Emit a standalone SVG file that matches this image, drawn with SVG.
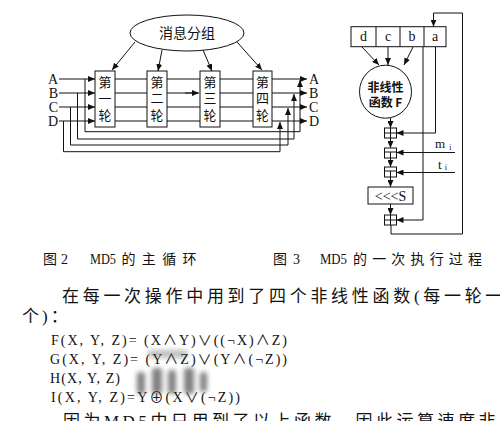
<svg xmlns="http://www.w3.org/2000/svg" width="500" height="421" viewBox="0 0 500 421">
<style>
.ln{fill:none;stroke:#111;stroke-width:1}
.bx{fill:#fff;stroke:#111;stroke-width:1}
.cj{font-family:"Noto Sans CJK SC","Liberation Sans",sans-serif;fill:#111}
.sr{font-family:"Liberation Serif","Noto Sans CJK SC",serif;fill:#111}
.body{font-family:"Liberation Serif","Noto Sans CJK SC",serif;fill:#111;font-size:17px}
</style>
<defs>
<marker id="ah" markerUnits="userSpaceOnUse" markerWidth="7" markerHeight="6" refX="7" refY="3" orient="auto">
<path d="M0,0 L7,3 L0,6 z" fill="#111"/>
</marker>
<filter id="blur" x="-20%" y="-20%" width="140%" height="140%"><feGaussianBlur stdDeviation="2.5"/></filter>
</defs>
<rect width="500" height="421" fill="#fff"/>

<!-- Figure 2 connectors -->
<g id="fig2-connectors">
<path class="ln" d="M135,42 L112,70" marker-end="url(#ah)"/>
<path class="ln" d="M162,50 L158,71" marker-end="url(#ah)"/>
<path class="ln" d="M203,50 L212,71" marker-end="url(#ah)"/>
<path class="ln" d="M237,42 L262,70" marker-end="url(#ah)"/>
<path class="ln" d="M59,79 L95,79" marker-end="url(#ah)"/>
<path class="ln" d="M59,93 L95,93" marker-end="url(#ah)"/>
<path class="ln" d="M59,107 L95,107" marker-end="url(#ah)"/>
<path class="ln" d="M59,121 L95,121" marker-end="url(#ah)"/>
<path class="ln" d="M115,79 H253 M115,93 H147 M167,93 H198 M115,107 H253 M115,121 H253 M220,93 H253"/>
<path class="ln" d="M185,93 L199,93" marker-end="url(#ah)"/>
<path class="ln" d="M272,79 L307,79" marker-end="url(#ah)"/>
<path class="ln" d="M272,93 L307,93" marker-end="url(#ah)"/>
<path class="ln" d="M272,107 L307,107" marker-end="url(#ah)"/>
<path class="ln" d="M272,121 L307,121" marker-end="url(#ah)"/>
<path class="ln" d="M85,79 V131.7 H300 V80" marker-end="url(#ah)"/>
<path class="ln" d="M77.5,93 V139 H294 V94" marker-end="url(#ah)"/>
<path class="ln" d="M70.5,107 V145 H288 V108" marker-end="url(#ah)"/>
<path class="ln" d="M63.5,121 V151.7 H280 V122" marker-end="url(#ah)"/>
</g>

<g id="msg">
<ellipse class="bx" cx="187" cy="33" rx="57" ry="18"/>
<text class="cj" x="187" y="38" font-size="14" text-anchor="middle">消息分组</text>
</g>
<g id="round1">
<rect class="bx" x="95" y="71" width="20" height="56"/>
<text class="cj" font-size="13" text-anchor="middle"><tspan x="105" y="87">第</tspan><tspan x="105" y="103">一</tspan><tspan x="105" y="120">轮</tspan></text>
</g>
<g id="round2">
<rect class="bx" x="147" y="71" width="20" height="56"/>
<text class="cj" font-size="13" text-anchor="middle"><tspan x="157" y="87">第</tspan><tspan x="157" y="103">二</tspan><tspan x="157" y="120">轮</tspan></text>
</g>
<g id="round3">
<rect class="bx" x="200" y="71" width="20" height="56"/>
<text class="cj" font-size="13" text-anchor="middle"><tspan x="210" y="87">第</tspan><tspan x="210" y="103">三</tspan><tspan x="210" y="120">轮</tspan></text>
</g>
<g id="round4">
<rect class="bx" x="253" y="71" width="19" height="56"/>
<text class="cj" font-size="13" text-anchor="middle"><tspan x="262.5" y="87">第</tspan><tspan x="262.5" y="103">四</tspan><tspan x="262.5" y="120">轮</tspan></text>
</g>
<g id="labels2" class="sr" font-size="14">
<text x="58" y="84" text-anchor="end">A</text>
<text x="58" y="98" text-anchor="end">B</text>
<text x="58" y="112" text-anchor="end">C</text>
<text x="58" y="126" text-anchor="end">D</text>
<text x="309" y="84">A</text>
<text x="309" y="98">B</text>
<text x="309" y="112">C</text>
<text x="309" y="126">D</text>
</g>

<!-- Figure 3 connectors -->
<g id="fig3-connectors">
<path class="ln" d="M391,225 V234 H462.5 V13 H433.5 V26.7" marker-end="url(#ah)"/>
<path class="ln" d="M362,47 L379,65" marker-end="url(#ah)"/>
<path class="ln" d="M388,47 L388,65" marker-end="url(#ah)"/>
<path class="ln" d="M413,47 L404,65" marker-end="url(#ah)"/>
<path class="ln" d="M390.5,118 V128" marker-end="url(#ah)"/>
<path class="ln" d="M390.5,138 V148" marker-end="url(#ah)"/>
<path class="ln" d="M390.5,158 V167" marker-end="url(#ah)"/>
<path class="ln" d="M390.5,177 V187" marker-end="url(#ah)"/>
<path class="ln" d="M390.5,204 V215" marker-end="url(#ah)"/>
<path class="ln" d="M435.5,47 V133 H396.5" marker-end="url(#ah)"/>
<path class="ln" d="M455,152.5 H396.5" marker-end="url(#ah)"/>
<path class="ln" d="M455,172.5 H396.5" marker-end="url(#ah)"/>
<path class="ln" d="M423,47 V220 H396.5" marker-end="url(#ah)"/>
</g>
<g id="regs">
<rect class="bx" x="351" y="26.7" width="95" height="20"/>
<path class="ln" d="M376,26.7 V46.7 M400,26.7 V46.7 M424,26.7 V46.7"/>
<g class="sr" font-size="14" text-anchor="middle">
<text x="363.5" y="41">d</text><text x="388" y="41">c</text><text x="412" y="41">b</text><text x="435" y="41">a</text>
</g>
</g>
<g id="funcF">
<ellipse class="bx" cx="385.5" cy="91.7" rx="26" ry="26.5"/>
<text class="cj" font-size="12" font-weight="bold" text-anchor="middle"><tspan x="385.5" y="92">非线性</tspan><tspan x="385.5" y="107">函数 F</tspan></text>
</g>
<g id="add1"><rect class="bx" x="384.5" y="128" width="12" height="10"/><path class="ln" d="M384.5,133 H396.5 M390.5,128 V138"/></g>
<g id="add2"><rect class="bx" x="384.5" y="148" width="12" height="10"/><path class="ln" d="M384.5,152 H396.5 M390.5,152 V158"/></g>
<g id="add3"><rect class="bx" x="384.5" y="167" width="12" height="10"/><path class="ln" d="M384.5,171 H396.5 M390.5,171 V177"/></g>
<g id="shift"><rect class="bx" x="368" y="187" width="45" height="17"/><text class="sr" x="390.5" y="200.5" font-size="14" text-anchor="middle">&lt;&lt;&lt;S</text></g>
<g id="add4"><rect class="bx" x="384.5" y="215" width="12" height="10"/><path class="ln" d="M384.5,220 H396.5 M390.5,215 V225"/></g>
<g id="inputs" class="sr">
<text x="435" y="148" font-size="13">m<tspan font-size="8" dx="4" dy="2">i</tspan></text>
<text x="438" y="169" font-size="13">t<tspan font-size="8" dx="3" dy="1">i</tspan></text>
</g>

<!-- captions and body text -->
<g id="captions" class="sr" font-size="14">
<text x="43" y="264" class="cj" font-size="14">图</text>
<text x="61" y="264">2</text>
<text x="90" y="264" textLength="26" lengthAdjust="spacingAndGlyphs">MD5</text>
<text x="121.5" y="264" class="cj" font-size="14" textLength="75" lengthAdjust="spacing">的主循环</text>
<text x="273" y="264" class="cj" font-size="14">图</text>
<text x="293" y="264">3</text>
<text x="320" y="264" textLength="27" lengthAdjust="spacingAndGlyphs">MD5</text>
<text x="353" y="264" class="cj" font-size="14" textLength="129" lengthAdjust="spacing">的一次执行过程</text>
</g>
<g id="body">
<text class="body" x="62" y="301.5" letter-spacing="3.7">在每一次操作中用到了四个非线性函数(每一轮一</text>
<text class="body" x="22" y="321.5" letter-spacing="3">个)：</text>
<g class="sr" font-size="14">
<text x="51" y="345" textLength="236" lengthAdjust="spacing">F(X, Y, Z)= (X∧Y)∨((¬X)∧Z)</text>
<text x="50" y="364" textLength="237" lengthAdjust="spacing">G(X, Y, Z)= (Y∧Z)∨(Y∧(¬Z))</text>
<text x="50" y="383" textLength="70" lengthAdjust="spacing">H(X, Y, Z)</text>
<text x="51" y="401.7" textLength="189" lengthAdjust="spacing">I(X, Y, Z)=Y⊕(X∨(¬Z))</text>
</g>
<g filter="url(#blur)" fill="#555" opacity="0.75">
<rect x="137" y="372" width="8" height="22" rx="3"/>
<rect x="152" y="368" width="10" height="26" rx="3"/>
<rect x="168" y="370" width="8" height="24" rx="3"/>
<rect x="184" y="368" width="10" height="26" rx="3"/>
<rect x="200" y="372" width="7" height="20" rx="3"/>
<rect x="148" y="350" width="40" height="8" rx="3" opacity="0.5"/>
</g>
<text class="body" x="63" y="427" letter-spacing="3.5">因为MD5中只用到了以上函数，因此运算速度非</text>
</g>
</svg>
